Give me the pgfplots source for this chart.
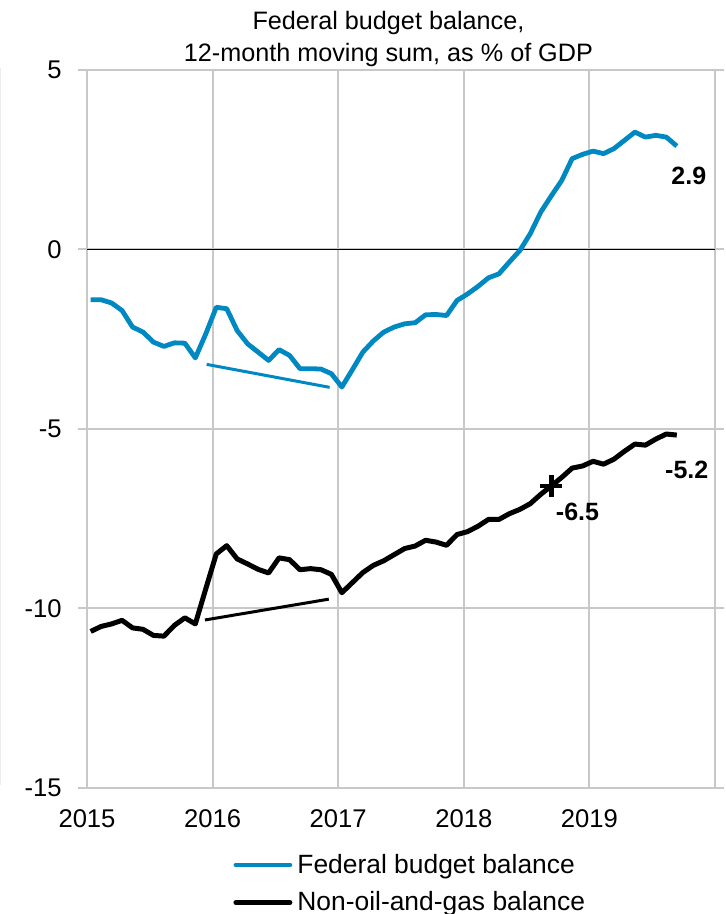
\documentclass[border=0pt]{standalone}
\usepackage{pgfplots}
\usepackage{pgfplotstable}
\pgfplotsset{compat=1.18}
\usepackage{fontspec}
\setmainfont{Liberation Sans}
\definecolor{fedblue}{RGB}{0,136,194}
\definecolor{gridgray}{RGB}{200,200,200}

\pgfplotstableread{
m y
0 -1.40
1 -1.40
2 -1.49
3 -1.70
4 -2.16
5 -2.30
6 -2.58
7 -2.70
8 -2.60
9 -2.61
10 -3.02
11 -2.35
12 -1.61
13 -1.65
14 -2.26
15 -2.63
16 -2.86
17 -3.09
18 -2.79
19 -2.95
20 -3.32
21 -3.32
22 -3.33
23 -3.46
24 -3.83
25 -3.35
26 -2.86
27 -2.55
28 -2.30
29 -2.16
30 -2.07
31 -2.04
32 -1.82
33 -1.81
34 -1.84
35 -1.42
36 -1.24
37 -1.03
38 -0.79
39 -0.68
40 -0.35
41 -0.03
42 0.44
43 1.04
44 1.49
45 1.92
46 2.53
47 2.65
48 2.74
49 2.67
50 2.81
51 3.04
52 3.27
53 3.13
54 3.18
55 3.13
56 2.88
}\fed

\pgfplotstableread{
m y
0 -10.64
1 -10.50
2 -10.43
3 -10.33
4 -10.54
5 -10.58
6 -10.75
7 -10.77
8 -10.47
9 -10.26
10 -10.43
11 -9.45
12 -8.48
13 -8.25
14 -8.62
15 -8.76
16 -8.91
17 -9.01
18 -8.59
19 -8.64
20 -8.92
21 -8.89
22 -8.92
23 -9.05
24 -9.56
25 -9.28
26 -9.00
27 -8.80
28 -8.67
29 -8.50
30 -8.33
31 -8.26
32 -8.10
33 -8.15
34 -8.24
35 -7.94
36 -7.86
37 -7.71
38 -7.52
39 -7.52
40 -7.36
41 -7.24
42 -7.08
43 -6.82
44 -6.59
45 -6.35
46 -6.09
47 -6.03
48 -5.90
49 -5.98
50 -5.84
51 -5.62
52 -5.42
53 -5.45
54 -5.28
55 -5.14
56 -5.17
}\nonoil

\begin{document}
\begin{tikzpicture}
\useasboundingbox (0,0) rectangle (363pt,457pt);
\draw[gray!15, line width=0.6pt] (0.4pt,64.5pt) -- (0.4pt,423pt);
\begin{axis}[
  width=314pt, height=359pt, scale only axis,
  at={(43.5pt,63pt)}, anchor=south west,
  xmin=-0.35, xmax=59.65, ymin=-15, ymax=5,
  xtick={-0.35,11.65,23.65,35.65,47.65,59.65},
  xticklabels={2015,2016,2017,2018,2019,{}},
  ytick={-15,-10,-5,0,5},
  yticklabels={-15,-10,-5,0,5},
  xmajorgrids, ymajorgrids,
  grid style={gridgray, line width=1pt},
  axis line style={gridgray, line width=1pt},
  tick align=outside, major tick length=4.5pt,
  xtick style={draw=none},
  ytick style={gridgray, line width=1pt},
  ticklabel style={font=\fontsize{12.8}{14}\selectfont},
  yticklabel style={inner sep=0pt, xshift=-8pt},
  xticklabel style={inner sep=0pt, yshift=-6pt},
  clip=false,
  title={Federal budget balance,\\12-month moving sum, as \% of GDP},
  title style={at={(axis description cs:0.48,1)}, anchor=south, inner sep=0pt,
    yshift=-4.4pt, align=center, font=\fontsize{12.6}{16}\selectfont},
  legend cell align=left,
  legend image code/.code={\path[draw=none] (0pt,-1.2pt) -- (0pt,6.8pt); \draw[#1, line cap=round] (0pt,0pt) -- (27pt,0pt);},
  legend style={at={(axis description cs:0.2325,-0.0877)}, anchor=north west,
    draw=none, fill=none, inner sep=0pt, row sep=6.5pt,
    nodes={inner sep=0pt}, /tikz/every odd column/.style={column sep=2.5pt},
    font=\fontsize{13.2}{15}\selectfont},
]
\addplot[black, line width=0.6pt, forget plot] coordinates {(-0.35,0) (59.65,0)};
\addplot[fedblue, line width=1.5pt, forget plot] coordinates {(11.08,-3.20) (22.83,-3.84)};
\addplot[black, line width=1.5pt, forget plot] coordinates {(10.92,-10.32) (22.75,-9.74)};
\addplot[fedblue, line width=2.4pt, line join=round] table[x=m,y=y] {\fed};
\addlegendentry{Federal budget balance}
\addplot[black, line width=2.5pt, line join=round] table[x=m,y=y] {\nonoil};
\addlegendentry{Non-oil-and-gas balance}
\addplot[black, only marks, mark=+, mark size=5.5pt, line width=2.3pt, forget plot] coordinates {(44,-6.59)};
\node[font=\bfseries\fontsize{12.5}{14}\selectfont] at (axis cs:57.15,2.06) {2.9};
\node[font=\bfseries\fontsize{12.5}{14}\selectfont] at (axis cs:46.51,-7.31) {-6.5};
\node[font=\bfseries\fontsize{12.5}{14}\selectfont] at (axis cs:56.95,-6.13) {-5.2};
\end{axis}
\end{tikzpicture}
\end{document}
